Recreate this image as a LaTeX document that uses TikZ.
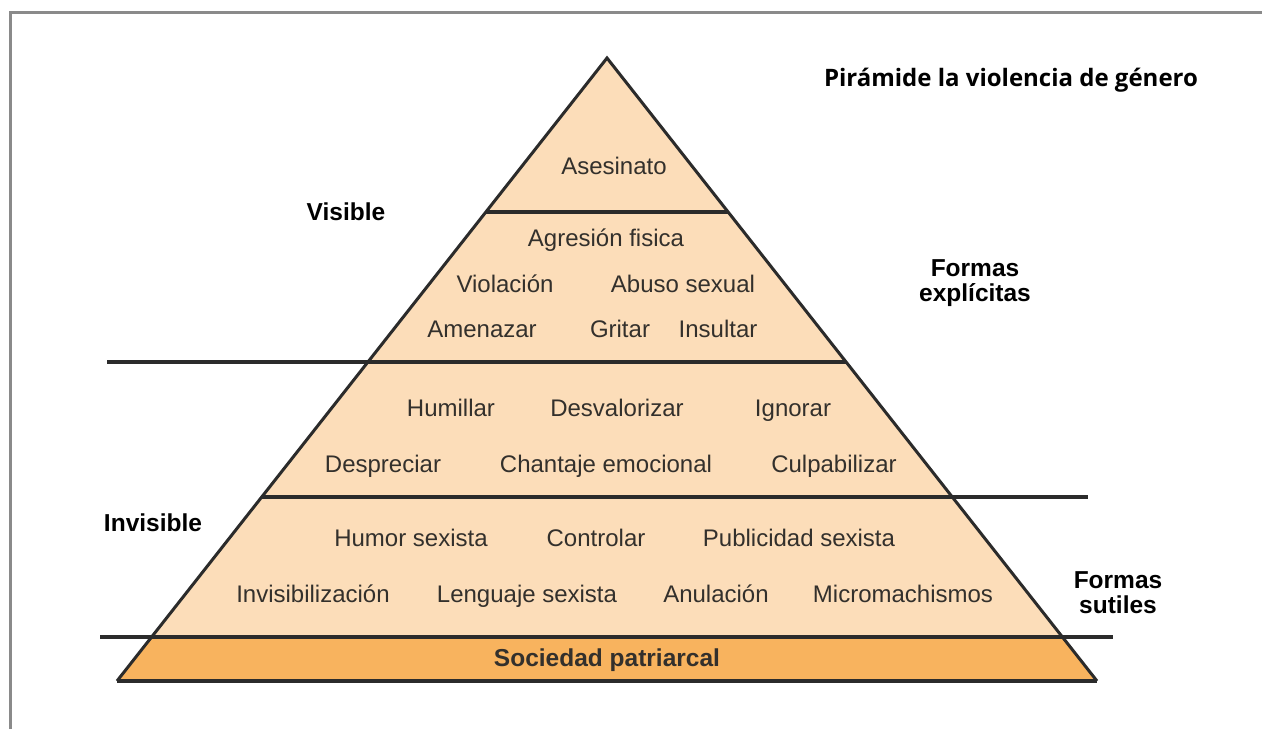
\documentclass[tikz,border=0pt]{standalone}
\usepackage{fontspec}
\setmainfont{Liberation Sans}
\newfontfamily\titlefont{Open Sans}
\definecolor{peach}{HTML}{FCDDB9}
\definecolor{band}{HTML}{F8B35E}
\definecolor{ink}{HTML}{2B2B2B}
\definecolor{txt}{HTML}{33302C}
\definecolor{frame}{HTML}{8A8A8A}
\begin{document}
\begin{tikzpicture}[x=1pt,y=-1pt,
  item/.style={text=txt,font=\fontsize{24}{28}\selectfont,inner sep=0pt,text height=17pt,text depth=5pt},
  side/.style={text=black,font=\fontsize{24.5}{29}\selectfont\bfseries,align=center,inner sep=0pt},
  rule/.style={draw=ink,line width=3.2pt},
  edge/.style={draw=ink,line width=3pt,line join=miter}]
\useasboundingbox (0,0) rectangle (1262,729);
\fill[white] (0,0) rectangle (1262,729);
% frame (top and left)
\draw[frame,line width=3pt] (10,729) -- (10,12) -- (1262,12);
% fills
\coordinate (apex) at (607,58);
\coordinate (bl) at (152,637);
\coordinate (br) at (1062,637);
\coordinate (fl) at (117,681);
\coordinate (fr) at (1097,681);
\fill[peach] (apex) -- (br) -- (bl) -- cycle;
\fill[band] (bl) -- (br) -- (fr) -- (fl) -- cycle;
% horizontal rules
\draw[rule] (486,212) -- (728,212);
\draw[rule] (107,362) -- (846,362);
\draw[rule] (262,497) -- (1088,497);
\draw[rule] (100,637) -- (1113,637);
\draw[rule] (fl) -- (fr);
% pyramid outline
\draw[edge] (fl) -- (apex) -- (fr);
% texts
\node[item] (t1) at (614,168) {Asesinato};
\node[item] (t2) at (606,240) {Agresión fisica};
\node[item] (t3) at (505,286) {Violación};
\node[item] (t4) at (683,286) {Abuso sexual};
\node[item] (t5) at (482,331) {Amenazar};
\node[item] (t6) at (620,331) {Gritar};
\node[item] (t7) at (718,331) {Insultar};
\node[item] (t8) at (451,410) {Humillar};
\node[item] (t9) at (617,410) {Desvalorizar};
\node[item] (t10) at (793,410) {Ignorar};
\node[item] (t11) at (383,466) {Despreciar};
\node[item] (t12) at (606,466) {Chantaje emocional};
\node[item] (t13) at (834,466) {Culpabilizar};
\node[item] (t14) at (411,540) {Humor sexista};
\node[item] (t15) at (596,540) {Controlar};
\node[item] (t16) at (799,540) {Publicidad sexista};
\node[item] (t17) at (313,596) {Invisibilización};
\node[item] (t18) at (527,596) {Lenguaje sexista};
\node[item] (t19) at (716,596) {Anulación};
\node[item] (t20) at (903,596) {Micromachismos};
\node[side,text=txt] (base) at (607,660) {Sociedad patriarcal};
\node[side] (vis) at (346,212) {Visible};
\node[side] (invis) at (153,523) {Invisible};
\node[side] (expl) at (975,283) {Formas\\[-4pt]explícitas};
\node[side] (sut) at (1118,593) {Formas\\[-4pt]sutiles};
\node[font=\titlefont\fontsize{24}{28}\selectfont\bfseries,inner sep=0pt] (title) at (1011,80) {Pirámide la violencia de género};
\end{tikzpicture}
\end{document}
